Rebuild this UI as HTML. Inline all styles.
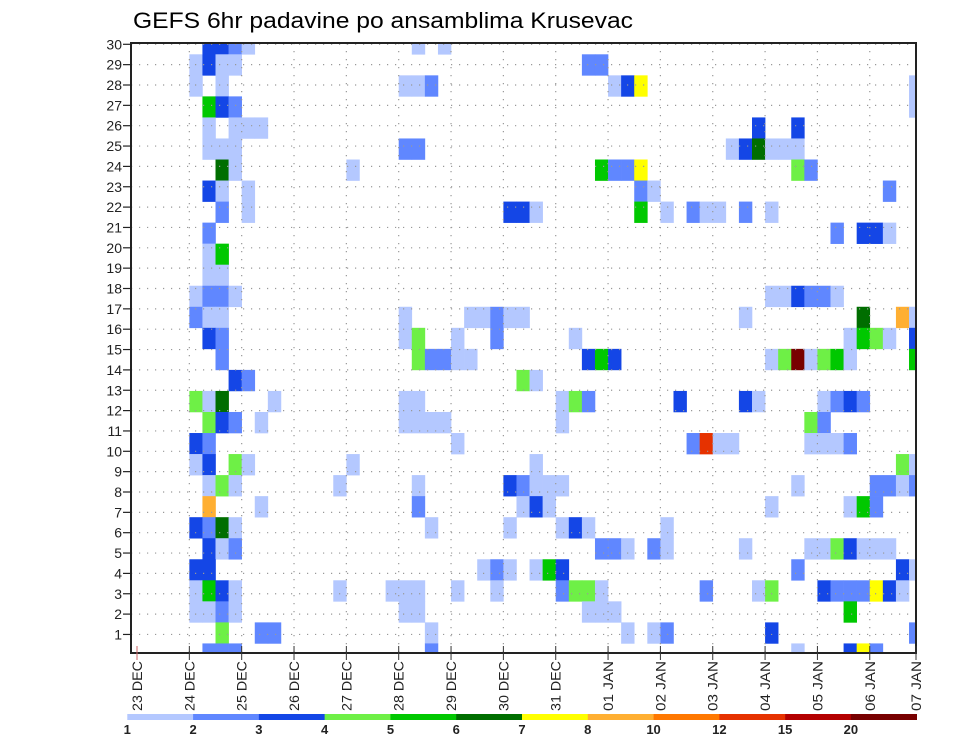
<!DOCTYPE html>
<html><head><meta charset="utf-8"><style>
html,body{margin:0;padding:0;background:#fff;}
svg{display:block;font-family:"Liberation Sans",sans-serif;}
</style></head><body>
<svg id="chart" width="960" height="742" viewBox="0 0 960 742" xmlns="http://www.w3.org/2000/svg">
<text x="133" y="28" font-size="22" textLength="500" lengthAdjust="spacingAndGlyphs">GEFS 6hr padavine po ansamblima Krusevac</text>
<defs><clipPath id="plotclip"><rect x="131" y="43" width="785" height="610"/></clipPath></defs>
<g id="cells" clip-path="url(#plotclip)"></g>
<g id="grid"></g>
<g id="axes"></g>
<g id="legend"></g>
</svg>
<script>
// category / tick data
const memberLabels = [30,29,28,27,26,25,24,23,22,21,20,19,18,17,16,15,14,13,12,11,10,9,8,7,6,5,4,3,2,1];
const dayNums = ["23","24","25","26","27","28","29","30","31","01","02","03","04","05","06","07"];
const dayMonths = ["DEC","DEC","DEC","DEC","DEC","DEC","DEC","DEC","DEC","JAN","JAN","JAN","JAN","JAN","JAN","JAN"];
const legendLabels = ["1","2","3","4","5","6","7","8","10","12","15","20"];
const classColors = ["#b4c8ff","#6087ff","#1446e6","#6ef046","#00c800","#006e00","#ffff00","#ffaf32","#ff7800","#e63200","#b40000","#780000"];
// cells: [rowIndexFromTop, sixHourStep, precipClass]
const cells = [
[0,5,2],[0,6,2],[0,7,1],[0,8,0],[0,21,0],[0,23,0],
[1,4,0],[1,5,2],[1,6,0],[1,7,0],[1,34,1],[1,35,1],
[2,4,0],[2,6,0],[2,20,0],[2,21,0],[2,22,1],[2,36,0],[2,37,2],[2,38,6],[2,59,0],
[3,5,4],[3,6,2],[3,7,1],[3,59,0],
[4,5,0],[4,7,0],[4,8,0],[4,9,0],[4,47,2],[4,50,2],
[5,5,0],[5,6,0],[5,7,0],[5,20,1],[5,21,1],[5,45,0],[5,46,2],[5,47,5],[5,48,0],[5,49,0],[5,50,0],
[6,6,5],[6,7,0],[6,16,0],[6,35,4],[6,36,1],[6,37,1],[6,38,6],[6,50,3],[6,51,1],
[7,5,2],[7,6,0],[7,8,0],[7,38,1],[7,39,0],[7,57,1],
[8,6,1],[8,8,0],[8,28,2],[8,29,2],[8,30,0],[8,38,4],[8,40,0],[8,42,1],[8,43,0],[8,44,0],[8,46,1],[8,48,0],
[9,5,1],[9,53,1],[9,55,2],[9,56,2],[9,57,0],
[10,5,0],[10,6,4],
[11,5,0],[11,6,0],
[12,4,0],[12,5,1],[12,6,1],[12,7,0],[12,48,0],[12,49,0],[12,50,2],[12,51,1],[12,52,1],[12,53,0],
[13,4,1],[13,5,0],[13,6,0],[13,20,0],[13,25,0],[13,26,0],[13,27,1],[13,28,0],[13,29,0],[13,46,0],[13,55,5],[13,58,7],[13,59,0],
[14,5,2],[14,6,1],[14,20,0],[14,21,3],[14,24,0],[14,27,1],[14,33,0],[14,54,0],[14,55,4],[14,56,3],[14,57,0],[14,59,2],
[15,6,1],[15,21,3],[15,22,1],[15,23,1],[15,24,0],[15,25,0],[15,34,2],[15,35,4],[15,36,2],[15,48,0],[15,49,3],[15,50,11],[15,51,0],[15,52,3],[15,53,4],[15,54,0],[15,59,4],
[16,7,2],[16,8,1],[16,29,3],[16,30,0],
[17,4,3],[17,5,0],[17,6,5],[17,10,0],[17,20,0],[17,21,0],[17,32,0],[17,33,3],[17,34,1],[17,41,2],[17,46,2],[17,47,0],[17,52,0],[17,53,1],[17,54,2],[17,55,1],
[18,5,3],[18,6,2],[18,7,1],[18,9,0],[18,20,0],[18,21,0],[18,22,0],[18,23,0],[18,32,0],[18,51,3],[18,52,1],
[19,4,2],[19,5,1],[19,24,0],[19,42,1],[19,43,9],[19,44,0],[19,45,0],[19,51,0],[19,52,0],[19,53,0],[19,54,1],
[20,4,0],[20,5,2],[20,7,3],[20,8,0],[20,16,0],[20,30,0],[20,58,3],[20,59,0],
[21,5,0],[21,6,3],[21,7,0],[21,15,0],[21,21,0],[21,28,2],[21,29,1],[21,30,0],[21,31,0],[21,32,0],[21,50,0],[21,56,1],[21,57,1],[21,58,0],[21,59,1],
[22,5,7],[22,9,0],[22,21,1],[22,29,0],[22,30,2],[22,31,0],[22,48,0],[22,54,0],[22,55,4],[22,56,1],
[23,4,2],[23,5,1],[23,6,5],[23,7,0],[23,22,0],[23,28,0],[23,32,0],[23,33,2],[23,34,0],[23,40,0],
[24,5,2],[24,6,0],[24,7,1],[24,35,1],[24,36,1],[24,37,0],[24,39,1],[24,40,0],[24,46,0],[24,51,0],[24,52,0],[24,53,3],[24,54,2],[24,55,0],[24,56,0],[24,57,0],
[25,4,2],[25,5,2],[25,26,0],[25,27,1],[25,28,0],[25,30,0],[25,31,4],[25,32,2],[25,50,1],[25,58,2],[25,59,0],
[26,4,0],[26,5,4],[26,6,2],[26,7,0],[26,15,0],[26,19,0],[26,20,0],[26,21,0],[26,24,0],[26,27,0],[26,32,1],[26,33,3],[26,34,3],[26,35,0],[26,43,1],[26,47,0],[26,48,3],[26,52,2],[26,53,1],[26,54,1],[26,55,1],[26,56,6],[26,57,2],[26,58,0],
[27,4,0],[27,5,0],[27,6,1],[27,7,0],[27,20,0],[27,21,0],[27,34,0],[27,35,0],[27,36,0],[27,54,4],
[28,6,3],[28,9,1],[28,10,1],[28,22,0],[28,37,0],[28,39,0],[28,40,1],[28,48,2],[28,59,1],
[29,5,1],[29,6,1],[29,7,1],[29,22,1],[29,50,0],[29,54,2],[29,55,6],[29,56,1]
];

const NS = "http://www.w3.org/2000/svg";
const L = 131, R = 916, T = 43, B = 653;
const colX = k => 137 + 13.085 * k;
const colW = 13.085;
const rowY = j => 54.3 + (j - 1) * 21.04;
const rowH = 21.04;
const dayX = d => d < 15 ? 137 + 52.34 * d : 916;
const labelY = i => 44.3 + i * 20.35;
function mk(tag, attrs, parent){const e=document.createElementNS(NS,tag);for(const k in attrs)e.setAttribute(k,attrs[k]);parent.appendChild(e);return e;}

const gc = document.getElementById('cells');
cells.forEach(c => {
  const r = mk('rect',{x:colX(c[1]).toFixed(2),y:rowY(c[0]).toFixed(2),width:(colW+0.3).toFixed(2),height:(rowH+0.3).toFixed(2),fill:classColors[c[2]]},gc);
  
  
});

const gg = document.getElementById('grid');
memberLabels.forEach((m,i) => {
  const ln = mk('line',{x1:L,x2:R,y1:labelY(i),y2:labelY(i),stroke:'#999','stroke-width':1.2,'stroke-dasharray':'1.2,6.8'},gg);
  
  
});
dayNums.forEach((d,i) => {
  if (i===0 || i===15) return;
  const ln = mk('line',{x1:dayX(i),x2:dayX(i),y1:T,y2:B,stroke:'#999','stroke-width':1.2,'stroke-dasharray':'1.2,6.8'},gg);
  
  
});

const ga = document.getElementById('axes');
const frame = mk('rect',{x:L,y:T,width:R-L,height:B-T,fill:'none',stroke:'#222','stroke-width':2},ga);


memberLabels.forEach((m,i) => {
  const y = labelY(i);
  const tk = mk('line',{x1:123,x2:L,y1:y,y2:y,stroke:'#222','stroke-width':1.2},ga);
  
  
  const t = mk('text',{x:122,y:y+5,'font-size':14,'text-anchor':'end',fill:'#222'},ga);
  t.textContent = m;
  
  
});
dayNums.forEach((d,i) => {
  const x = dayX(i);
  const tk = mk('line',{x1:x,x2:x,y1:646,y2:660,stroke:i===0?'#c66':'#333','stroke-width':1},ga);
  
  
  const t = mk('text',{x:0,y:0,'font-size':14,fill:'#222',transform:`translate(${x+5},711) rotate(-90)`},ga);
  t.textContent = d + ' ' + dayMonths[i];
  t.setAttribute('textLength', '50');
  t.setAttribute('lengthAdjust', 'spacingAndGlyphs');
  
  
});

const gl = document.getElementById('legend');
const segW = (916.7 - 127.3) / classColors.length;
classColors.forEach((c,i) => {
  const r = mk('rect',{x:127.3+i*segW,y:714,width:segW+0.3,height:6,fill:c},gl);
  
  
});
legendLabels.forEach((l,i) => {
  const t = mk('text',{x:127.3+i*segW,y:734,'font-size':13,'font-weight':'bold','text-anchor':'middle',fill:'#222'},gl);
  t.textContent = l;
  
  
});
</script>
</body></html>
